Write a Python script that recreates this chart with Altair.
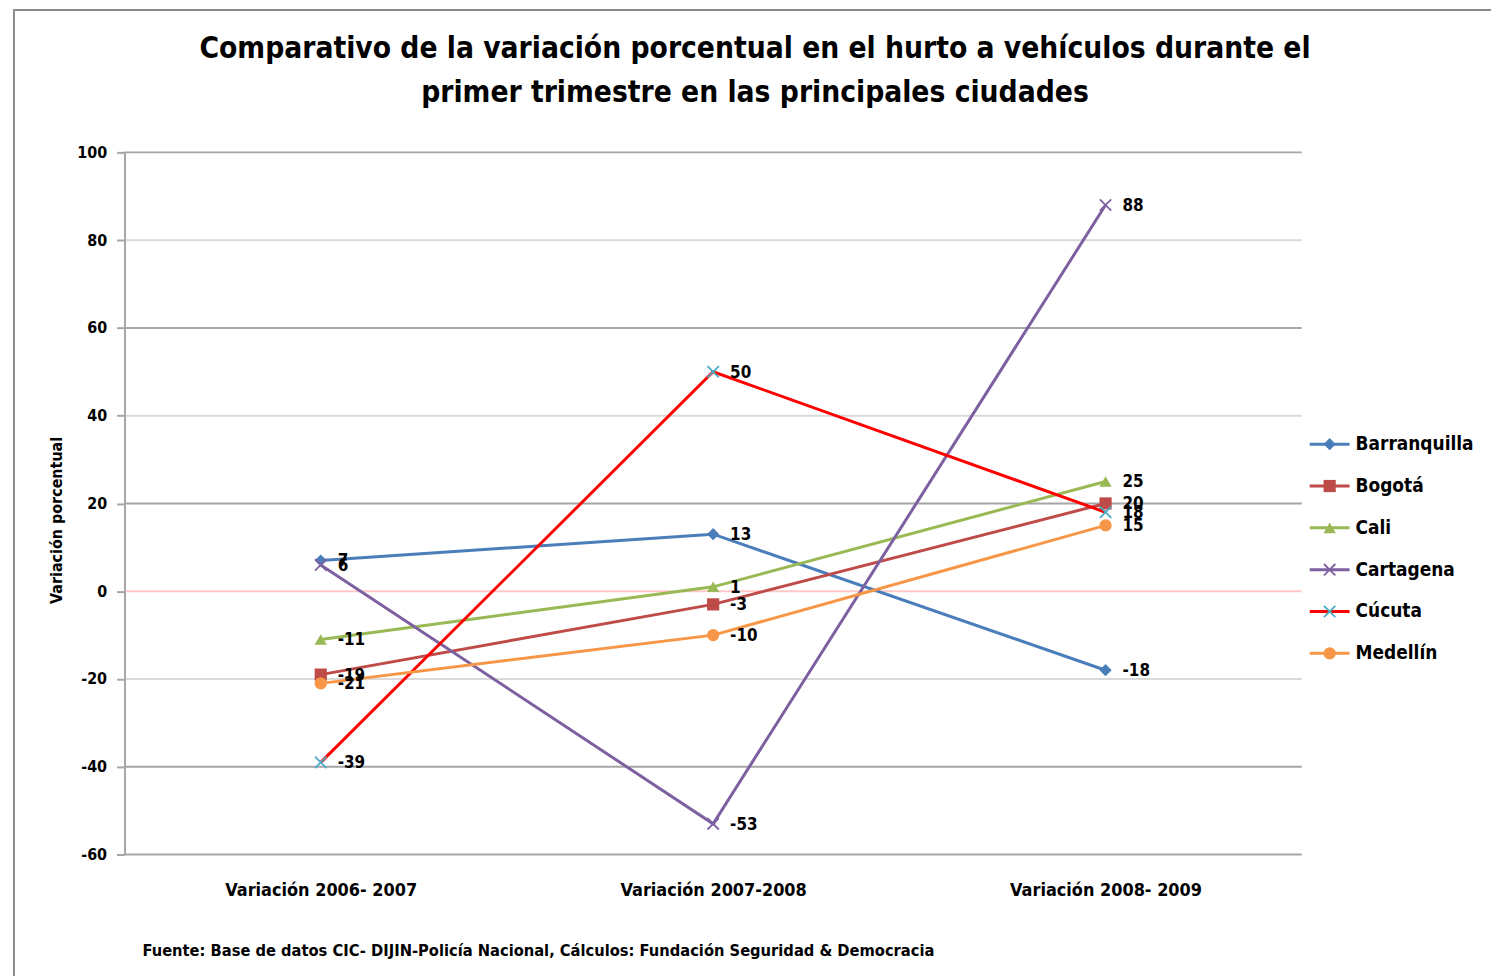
import altair as alt
import pandas as pd

# ---------------- data ----------------
periods = ["Variación 2006- 2007", "Variación 2007-2008", "Variación 2008- 2009"]
cities = ["Barranquilla", "Bogotá", "Cali", "Cartagena", "Cúcuta", "Medellín"]
barranquilla = [7, 13, -18]
bogota = [-19, -3, 20]
cali = [-11, 1, 25]
cartagena = [6, -53, 88]
cucuta = [-39, 50, 18]
medellin = [-21, -10, 15]
line_colors = ["#4A7EBB", "#BE4B48", "#98B954", "#7D60A0", "#FF0000", "#F79646"]
marker_colors = ["#4A7EBB", "#BE4B48", "#98B954", "#7D60A0", "#4BACC6", "#F79646"]
X_PATH = "M-1,-1L1,1M-1,1L1,-1"
shapes = ["diamond", "square", "triangle-up", X_PATH, X_PATH, "circle"]
y_ticks = [100, 80, 60, 40, 20, -20, -40, -60]
grid_colors = ["#A6A6A6", "#DADADA", "#A6A6A6", "#DADADA", "#A6A6A6", "#DADADA", "#A6A6A6", "#A6A6A6"]
title_lines = ["Comparativo de la variación porcentual en el hurto a vehículos durante el",
               "primer trimestre en las principales ciudades"]
y_title = "Variación porcentual"
source = "Fuente: Base de datos CIC- DIJIN-Policía Nacional, Cálculos: Fundación Seguridad & Democracia"

FONT = "Liberation Sans Narrow, DejaVu Sans Condensed, Lato, sans-serif"

series = [barranquilla, bogota, cali, cartagena, cucuta, medellin]
rows = []
for i, c in enumerate(cities):
    for j, p in enumerate(periods):
        v = series[i][j]
        rows.append({"city": c, "period": p, "order": j, "value": v, "label": str(v),
                     "lc": line_colors[i], "mc": marker_colors[i], "shape": shapes[i],
                     "xmark": shapes[i] == X_PATH})
df = pd.DataFrame(rows)
leg = pd.DataFrame({"city": cities, "idx": list(range(len(cities))),
                    "lc": line_colors, "mc": marker_colors, "shape": shapes,
                    "xmark": [s == X_PATH for s in shapes]})
grid_df = pd.DataFrame({"v": y_ticks, "gc": grid_colors})

W, H = 1182, 705
xenc = alt.X("period:N", sort=periods, scale=alt.Scale(padding=0.5),
             axis=alt.Axis(title=None, domain=False, ticks=False, labelPadding=27,
                           labelFontSize=18, labelFont=FONT, labelFontWeight="bold",
                           labelColor="#000", labelAngle=0, labelLimit=0, zindex=1))
yscale = alt.Scale(domain=[-60, 100], nice=False, zero=False)

frame = alt.Chart(pd.DataFrame({"a": [0]})).mark_rect(
    fill=None, stroke="#8C8C8C", strokeWidth=2
).encode(x=alt.value(-111), x2=alt.value(1400), y=alt.value(-143), y2=alt.value(850))

grid = alt.Chart(grid_df).mark_rule(strokeWidth=2).encode(
    y=alt.Y("v:Q", scale=yscale,
            axis=alt.Axis(values=[100, 80, 60, 40, 20, 0, -20, -40, -60], grid=False,
                          labelExpr="replace(datum.label, '\u2212', '-')",
                          domainColor="#A6A6A6", domainWidth=2, tickColor="#A6A6A6",
                          tickWidth=2, tickSize=8, labelPadding=10, labelFontSize=16,
                          labelFont=FONT, labelFontWeight="bold", labelColor="#000",
                          title=y_title, titleFont=FONT, titleFontSize=16,
                          titleFontWeight="bold", titleColor="#000", titleAngle=-90,
                          titleX=-68, titleY=369, titleBaseline="middle", titleAlign="center",
                          zindex=1)),
    color=alt.Color("gc:N", scale=None),
)
zero = alt.Chart(pd.DataFrame({"v": [0]})).mark_rule(color="#FFC8C8", strokeWidth=2).encode(
    y=alt.Y("v:Q", scale=yscale))

lines = alt.Chart(df).mark_line(strokeWidth=3).encode(
    x=xenc, y=alt.Y("value:Q", scale=yscale),
    color=alt.Color("lc:N", scale=None), detail="city:N", order="order:Q")
pts_f = alt.Chart(df).transform_filter("!datum.xmark").mark_point(filled=True, opacity=1, size=150).encode(
    x=xenc, y=alt.Y("value:Q", scale=yscale),
    color=alt.Color("mc:N", scale=None), shape=alt.Shape("shape:N", scale=None))
pts_x = alt.Chart(df).transform_filter("datum.xmark").mark_point(filled=False, opacity=1, size=130, strokeWidth=1.8).encode(
    x=xenc, y=alt.Y("value:Q", scale=yscale),
    color=alt.Color("mc:N", scale=None), shape=alt.Shape("shape:N", scale=None))
labels = alt.Chart(df).mark_text(align="left", baseline="middle", dx=17, dy=1, fontSize=17,
                                 font=FONT, fontWeight="bold", color="#000").encode(
    x=xenc, y=alt.Y("value:Q", scale=yscale), text="label:N")
src = alt.Chart(pd.DataFrame({"a": [0]})).mark_text(
    align="left", baseline="middle", fontSize=16.4, font=FONT, fontWeight="bold", color="#000"
).encode(x=alt.value(18), y=alt.value(802), text=alt.value(source))

main = alt.layer(frame, grid, zero, lines, pts_f, pts_x, labels, src)

lscale = alt.Scale(domain=[0, 5], range=[293, 503])
ly = alt.Y("idx:Q", scale=lscale, axis=None)
leg_line = alt.Chart(leg).mark_rule(strokeWidth=3).encode(
    x=alt.value(1190), x2=alt.value(1230), y=ly, color=alt.Color("lc:N", scale=None))
leg_pf = alt.Chart(leg).transform_filter("!datum.xmark").mark_point(filled=True, opacity=1, size=150).encode(
    x=alt.value(1210), y=ly, color=alt.Color("mc:N", scale=None), shape=alt.Shape("shape:N", scale=None))
leg_px = alt.Chart(leg).transform_filter("datum.xmark").mark_point(filled=False, opacity=1, size=130, strokeWidth=1.8).encode(
    x=alt.value(1210), y=ly, color=alt.Color("mc:N", scale=None), shape=alt.Shape("shape:N", scale=None))
leg_txt = alt.Chart(leg).mark_text(align="left", baseline="middle", fontSize=19, font=FONT,
                                   fontWeight="bold", color="#000").encode(
    x=alt.value(1236), y=ly, text="city:N")
legend = alt.layer(leg_line, leg_pf, leg_px, leg_txt)

# title lines placed with their own independent y scale
tscale = alt.Scale(domain=[0, 1], range=[-104, -60])
title_txt = alt.Chart(pd.DataFrame({"t": title_lines, "i": [0, 1]})).mark_text(
    align="center", baseline="middle", fontSize=29.8, font=FONT, fontWeight="bold", color="#000"
).encode(x=alt.value(633), y=alt.Y("i:Q", scale=tscale, axis=None), text="t:N")

chart = alt.layer(main, legend, title_txt).resolve_scale(y="independent").properties(
    width=W, height=H,
    autosize=alt.AutoSizeParams(type="none"),
    padding={"left": 117, "top": 143, "right": 190, "bottom": 120},
    background="white",
).configure_view(stroke=None)

chart.save("out.html", embed_options={"renderer": "svg", "actions": False})
